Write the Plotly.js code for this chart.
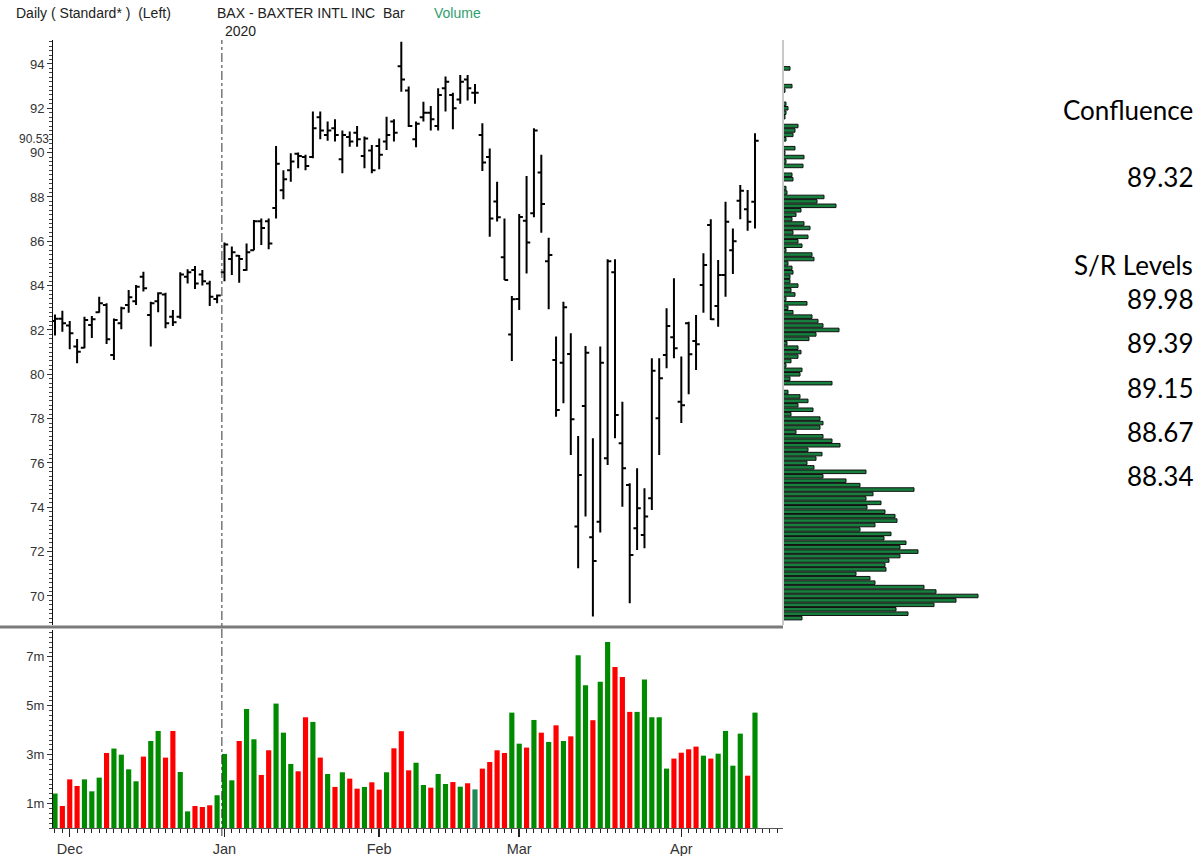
<!DOCTYPE html>
<html>
<head>
<meta charset="utf-8">
<script src="https://cdn.plot.ly/plotly-3.0.1.min.js"></script>
<style>html,body{margin:0;padding:0;background:#fff;}#chart{width:1204px;height:856px;}</style>
</head>
<body>
<div id="chart"></div>
<script>
// ---- data ----
const dates = [
 "2019-11-27","2019-11-29",
 "2019-12-02","2019-12-03","2019-12-04","2019-12-05","2019-12-06",
 "2019-12-09","2019-12-10","2019-12-11","2019-12-12","2019-12-13",
 "2019-12-16","2019-12-17","2019-12-18","2019-12-19","2019-12-20",
 "2019-12-23","2019-12-24","2019-12-26","2019-12-27","2019-12-30","2019-12-31",
 "2020-01-02","2020-01-03","2020-01-06","2020-01-07","2020-01-08","2020-01-09","2020-01-10",
 "2020-01-13","2020-01-14","2020-01-15","2020-01-16","2020-01-17",
 "2020-01-21","2020-01-22","2020-01-23","2020-01-24",
 "2020-01-27","2020-01-28","2020-01-29","2020-01-30","2020-01-31",
 "2020-02-03","2020-02-04","2020-02-05","2020-02-06","2020-02-07",
 "2020-02-10","2020-02-11","2020-02-12","2020-02-13","2020-02-14",
 "2020-02-18","2020-02-19","2020-02-20","2020-02-21",
 "2020-02-24","2020-02-25","2020-02-26","2020-02-27","2020-02-28",
 "2020-03-02","2020-03-03","2020-03-04","2020-03-05","2020-03-06",
 "2020-03-09","2020-03-10","2020-03-11","2020-03-12","2020-03-13",
 "2020-03-16","2020-03-17","2020-03-18","2020-03-19","2020-03-20",
 "2020-03-23","2020-03-24","2020-03-25","2020-03-26","2020-03-27",
 "2020-03-30","2020-03-31",
 "2020-04-01","2020-04-02","2020-04-03",
 "2020-04-06","2020-04-07","2020-04-08","2020-04-09",
 "2020-04-13","2020-04-14","2020-04-15","2020-04-16"
];
const openP = [82.4,82.5,82.2,81.25,81.2,82.22,82.8,83.13,80.87,82.3,83.13,83.3,84.4,82.67,83.3,83.6,82.6,82.6,84.4,84.7,84.5,84.1,83.4,
 84.6,85.2,85.35,84.7,85.6,86.9,86.9,87.5,88.3,89.2,89.95,89.8,89.8,91.6,90.8,91.1,89.7,90.7,90.9,89.85,90.1,
 90.3,90.5,91.4,93.9,92.8,90.6,91.6,91.8,91.2,92.9,92.6,92.4,93.3,92.7,90.8,89.8,87.8,85.28,81.8,
 83.4,86.93,87.26,89.1,85.1,80.64,80.52,80.92,73.13,78.57,72.65,73.35,76.21,84.6,76.89,75.0,73.05,72.75,74.41,78.02,80.87,81.67,
 78.76,82.3,81.5,84.03,86.73,83.08,84.48,85.6,87.83,87.44,87.78];
const highP = [82.7,82.87,82.4,81.59,82.6,82.63,83.5,83.2,82.52,83.05,83.8,84.03,84.63,83.27,83.7,83.68,82.9,84.6,84.74,84.88,84.7,84.22,83.6,
 85.94,85.76,85.38,85.9,86.96,87.03,87.03,90.3,89.2,89.97,90.0,89.9,91.85,91.85,91.4,91.5,91.0,90.95,91.2,90.73,90.34,
 90.64,91.62,91.5,95.0,92.98,91.4,92.3,92.1,92.9,93.43,92.7,93.5,93.5,93.1,91.32,90.19,88.69,87.03,83.53,
 87.23,88.94,91.1,89.9,86.16,81.7,83.27,81.85,77.22,81.28,77.11,81.25,85.19,85.19,78.76,75.08,75.76,74.86,80.72,80.72,82.98,84.33,
 80.8,82.37,82.67,85.46,86.99,85.16,87.78,86.58,88.54,88.31,90.87];
const lowP = [81.75,81.92,81.13,80.5,81.17,81.64,82.78,81.37,80.64,82.03,82.78,83.13,83.73,81.25,82.8,82.08,82.18,82.5,84.1,83.85,84.0,83.08,83.2,
 84.2,84.48,84.13,84.67,85.6,85.83,85.64,87.03,87.9,88.69,89.3,89.2,89.74,90.6,90.54,90.5,89.07,90.27,90.27,89.3,89.07,
 89.25,90.12,90.5,92.75,91.15,90.24,91.4,91.0,91.0,91.85,91.05,92.2,92.35,92.2,89.17,86.2,86.89,84.25,80.6,
 82.9,84.55,87.08,86.38,82.93,78.09,78.69,76.36,71.25,73.58,69.07,72.86,75.91,77.11,74.03,69.67,72.07,72.15,73.88,76.36,80.27,80.72,
 77.8,79.1,80.19,82.78,82.45,82.15,83.5,84.52,86.99,86.48,86.58];
const closeP = [82.5,82.3,81.85,81.02,82.45,82.48,83.2,81.58,82.45,82.98,83.47,83.95,83.88,83.2,83.65,82.3,82.35,84.5,84.6,84.1,84.2,83.5,83.55,
 85.85,85.5,85.2,85.5,86.9,86.6,85.9,89.5,88.8,89.6,89.85,89.4,91.1,91.0,91.0,90.8,90.8,90.5,90.6,90.64,89.2,
 89.9,90.8,90.9,93.3,91.2,91.3,91.8,91.5,92.6,93.2,92.0,93.2,92.9,92.7,89.55,87.03,87.08,84.25,83.38,
 87.1,85.94,91.0,87.68,85.38,78.39,83.02,77.97,75.46,80.97,71.58,80.52,85.1,78.16,75.76,71.85,73.96,73.58,80.16,79.82,82.18,81.17,
 78.6,80.9,81.35,84.93,82.48,84.48,86.88,86.0,88.28,86.88,90.54];
const volumeM = [1.41,0.9,1.99,1.72,1.99,1.5,2.06,3.07,3.25,3.0,2.4,1.91,2.92,3.56,3.97,2.88,3.97,2.29,0.68,0.9,
 0.86,0.93,1.34,3.03,1.95,3.56,4.87,3.63,2.17,3.18,5.09,3.9,2.62,2.32,4.53,4.34,2.88,2.21,1.68,2.28,
 2.02,1.61,1.68,1.87,1.57,2.28,3.26,3.96,2.36,2.67,1.76,1.65,2.21,1.8,1.88,1.69,1.83,1.58,2.43,2.7,
 3.18,3.07,4.72,3.45,3.29,4.42,3.9,3.52,4.2,3.56,3.75,7.07,5.84,4.41,5.98,7.61,6.59,6.18,4.75,4.75,
 6.07,4.53,4.53,2.43,2.84,3.08,3.22,3.33,2.96,2.84,3.04,3.97,2.55,3.86,2.14,4.72];
// volume-at-price profile (relative volume per 0.2 price bucket)
const profilePrice = [69.0,69.2,69.4,69.6,69.8,70.0,70.2,70.4,70.6,70.8,71.0,71.2,71.4,71.6,71.8,72.0,72.2,72.4,72.6,72.8,
 73.0,73.2,73.4,73.6,73.8,74.0,74.2,74.4,74.6,74.8,75.0,75.2,75.4,75.6,75.8,76.0,76.2,76.4,76.6,76.8,
 77.0,77.2,77.4,77.6,77.8,78.0,78.2,78.4,78.6,78.8,79.0,79.2,79.6,79.8,80.0,80.2,80.4,80.6,80.8,81.0,
 81.2,81.4,81.6,81.8,82.0,82.2,82.4,82.6,82.8,83.0,83.2,83.4,83.6,83.8,84.0,84.2,84.4,84.6,84.8,85.0,
 85.2,85.4,85.6,85.8,86.0,86.2,86.4,86.6,86.8,87.0,87.2,87.4,87.6,87.8,88.0,88.2,88.4,88.8,89.0,89.4,
 89.6,89.8,90.0,90.2,90.6,90.8,91.0,91.2,91.6,91.8,92.0,92.2,92.8,93.0,93.8];
const profileVol = [19,125,113,151,173,195,153,141,92,87,73,103,102,106,117,135,117,123,101,108,
 77,92,114,112,102,84,98,83,90,131,77,63,40,83,31,24,33,39,25,57,
 49,40,13,37,40,37,8,30,15,25,17,5,49,7,17,19,3,8,15,18,
 15,4,26,33,56,40,35,29,10,5,24,3,12,8,15,7,7,10,9,5,
 31,29,3,19,15,25,10,27,21,9,13,18,53,34,41,4,3,10,9,20,
 3,21,2,12,3,10,12,15,2,3,5,3,2,9,7];
const priceTicks = [70,72,74,76,78,80,82,84,86,88,90,92,94];
const volumeTicks = [1,3,5,7];
const monthNames = ["Jan","Feb","Mar","Apr","May","Jun","Jul","Aug","Sep","Oct","Nov","Dec"];
const lastPrice = 90.53;
const confluence = 89.32;
const srLevels = [89.98, 89.39, 89.15, 88.67, 88.34];

// ---- derived ----
const idx = dates.map((d,i)=>i);
const monthTickVals = [], monthTickText = [];
dates.forEach((d,i)=>{ if(i>0 && d.slice(5,7)!==dates[i-1].slice(5,7)){ monthTickVals.push(i); monthTickText.push(monthNames[parseInt(d.slice(5,7),10)-1]); }});
const yearBreak = dates.findIndex((d,i)=>i>0 && d.slice(0,4)!==dates[i-1].slice(0,4)) - 0.35;
const volColors = closeP.map((c,i)=> c>openP[i] ? '#008a00' : (c<openP[i] ? '#ff0000' : '#1f8a5a'));

const W=1204, H=856;
const px = x=>x/W, py = y=>1-y/H;
const AR = 'Liberation Sans, Arial, sans-serif';

const traces = [
 {type:'ohlc', x:idx, open:openP, high:highP, low:lowP, close:closeP, xaxis:'x', yaxis:'y',
  increasing:{line:{color:'#000', width:2}}, decreasing:{line:{color:'#000', width:2}},
  tickwidth:0.5, hoverinfo:'skip', showlegend:false},
 {type:'bar', x:idx, y:volumeM, xaxis:'x', yaxis:'y2', width:0.7,
  marker:{color:volColors, line:{width:0}}, hoverinfo:'skip', showlegend:false},
 {type:'bar', orientation:'h', x:profileVol, y:profilePrice, xaxis:'x3', yaxis:'y', width:0.16,
  marker:{color:'#17803f', line:{color:'#111', width:1}}, hoverinfo:'skip', showlegend:false}
];

const HF = {family:AR, size:14, color:'#222'};
const annotations = [
 {text:'Daily ( Standard* )  (Left)', x:px(14), y:py(13), xanchor:'left', yanchor:'middle'},
 {text:'BAX - BAXTER INTL INC  Bar', x:px(215), y:py(13), xanchor:'left', yanchor:'middle'},
 {text:'Volume', x:px(432), y:py(13), xanchor:'left', yanchor:'middle', font:{family:AR, size:14, color:'#2f9e6e'}},
 {text:'2020', x:px(223), y:py(31), xanchor:'left', yanchor:'middle'},
 {text:lastPrice.toFixed(2), x:px(50), y:lastPrice, yref:'y', yshift:2, xanchor:'right', yanchor:'middle', borderpad:0, font:{family:AR, size:12, color:'#333'}}
].map(a=>Object.assign({xref:'paper', yref:'paper', showarrow:false, font:HF}, a));

const BIG = {family:'Lato, Noto Sans, sans-serif', size:26, color:'#000'};
const rightTexts = [['Confluence',110],[confluence.toFixed(2),177],['S/R Levels',265]];
srLevels.forEach((v,k)=>rightTexts.push([v.toFixed(2), 299 + k*44.3]));
rightTexts.forEach(([t,y])=>annotations.push({text:t, xref:'paper', yref:'paper', x:px(1195), y:py(y), xanchor:'right', yanchor:'middle', showarrow:false, font:BIG}));

const shapes = [
 {type:'line', xref:'x', yref:'paper', x0:yearBreak, x1:yearBreak, y0:py(836), y1:py(40), line:{color:'#333', width:1, dash:'dashdot'}},
 {type:'line', xref:'paper', yref:'paper', x0:0, x1:px(783), y0:py(627), y1:py(627), line:{color:'#7a7a7a', width:3}},
 {type:'line', xref:'paper', yref:'paper', x0:px(783), x1:px(783), y0:py(625), y1:py(40), line:{color:'#c8c8c8', width:2}}
];

const layout = {
 width:W, height:H, margin:{l:0,r:0,t:0,b:0}, paper_bgcolor:'#fff', plot_bgcolor:'rgba(0,0,0,0)',
 showlegend:false, barmode:'overlay',
 xaxis:{domain:[px(53), px(783)], range:[-0.27, 98.8], anchor:'y2', rangeslider:{visible:false},
  tickmode:'array', tickvals:monthTickVals, ticktext:monthTickText, ticks:'outside', ticklen:8, tickwidth:1.5, tickcolor:'#222',
  minor:{tickmode:'linear', tick0:0, dtick:1, ticks:'outside', ticklen:4, tickcolor:'#222', tickwidth:1, showgrid:false},
  showline:true, linecolor:'#555', linewidth:1, showgrid:false, zeroline:false,
  tickfont:{family:AR, size:14.5, color:'#333'}, fixedrange:true},
 yaxis:{domain:[py(625), py(40)], range:[68.69, 95.08], anchor:'x',
  tickmode:'array', tickvals:priceTicks, ticks:'outside', ticklen:5, tickcolor:'#333', tickwidth:1,
  minor:{tickmode:'linear', tick0:0, dtick:0.2, ticks:'outside', ticklen:3, tickcolor:'#444', tickwidth:1, showgrid:false},
  showline:true, linecolor:'#111', linewidth:1, showgrid:false, zeroline:false,
  tickfont:{family:AR, size:13, color:'#333'}, fixedrange:true},
 yaxis2:{domain:[py(828), py(630)], range:[0, 8.1], anchor:'x',
  tickmode:'array', tickvals:volumeTicks, ticktext:volumeTicks.map(v=>v+'m'), ticks:'outside', ticklen:5, tickcolor:'#333', tickwidth:1,
  minor:{tickmode:'linear', tick0:0, dtick:0.2, ticks:'outside', ticklen:3, tickcolor:'#444', tickwidth:1, showgrid:false},
  showline:true, linecolor:'#111', linewidth:1, showgrid:false, zeroline:false,
  tickfont:{family:AR, size:13, color:'#333'}, fixedrange:true},
 xaxis3:{domain:[px(783), px(1003)], range:[0, 220], anchor:'y', visible:false, fixedrange:true},
 annotations:annotations, shapes:shapes
};

Plotly.newPlot('chart', traces, layout, {displayModeBar:false, staticPlot:true});
</script>
</body>
</html>
